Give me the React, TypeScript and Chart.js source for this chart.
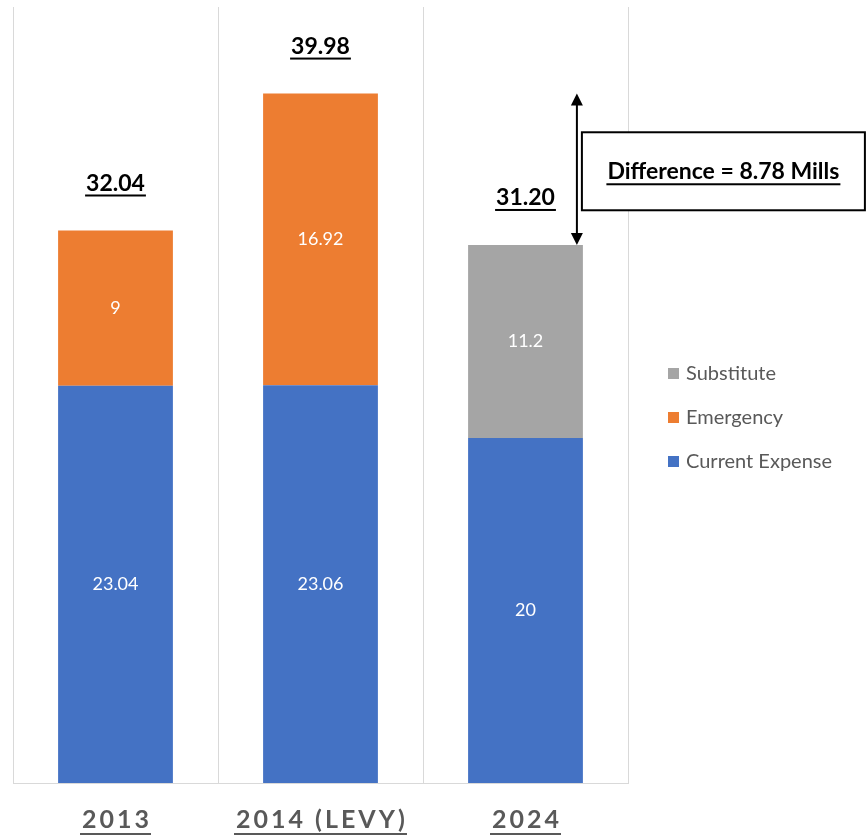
import React, { useEffect, useRef } from "react";
import { Chart, registerables } from "chart.js";

Chart.register(...registerables);

const categories = ["2013", "2014 (LEVY)", "2024"];
const currentExpense = [23.04, 23.06, 20];
const emergency: (number | null)[] = [9, 16.92, null];
const substitute: (number | null)[] = [null, null, 11.2];
const totalLabels = ["32.04", "39.98", "31.20"];
const differenceText = "Difference = 8.78 Mills";
const yMax = 45;

const W = 868;
const H = 836;

function drawUnderlinedText(
  ctx: CanvasRenderingContext2D,
  text: string,
  cx: number,
  cy: number,
  font: string,
  color: string,
  spacing: number,
  underlineOffset: number,
  underlineWidth: number,
  padExtra = 0
) {
  ctx.save();
  ctx.font = font;
  (ctx as any).letterSpacing = spacing + "px";
  ctx.fillStyle = color;
  ctx.textBaseline = "middle";
  ctx.textAlign = "left";
  const w = ctx.measureText(text).width - spacing;
  const x0 = cx - w / 2;
  ctx.fillText(text, x0, cy);
  ctx.fillRect(x0 - padExtra, cy + underlineOffset, w + padExtra * 2, underlineWidth);
  ctx.restore();
}

const overlayPlugin = {
  id: "overlay",
  afterDatasetsDraw(chart: any) {
    const ctx: CanvasRenderingContext2D = chart.ctx;
    const xs = chart.scales.x;
    const ys = chart.scales.y;

    // values inside segments
    ctx.save();
    ctx.font = "18px Lato";
    ctx.fillStyle = "#ffffff";
    ctx.textAlign = "center";
    ctx.textBaseline = "middle";
    chart.data.datasets.forEach((ds: any, di: number) => {
      const meta = chart.getDatasetMeta(di);
      meta.data.forEach((el: any, i: number) => {
        const v = ds.data[i];
        if (v === null || v === undefined) return;
        ctx.fillText(String(v), el.x, (el.y + el.base) / 2);
      });
    });
    ctx.restore();

    // totals
    const totals = categories.map(
      (_, i) => (currentExpense[i] || 0) + (emergency[i] || 0) + (substitute[i] || 0)
    );
    totals.forEach((t, i) => {
      const px = xs.getPixelForValue(i);
      const py = ys.getPixelForValue(t);
      drawUnderlinedText(ctx, totalLabels[i], px, py - 47, "bold 23px Lato", "#000000", 0, 11, 2, 1);
    });

    // x labels
    categories.forEach((c, i) => {
      const px = xs.getPixelForValue(i);
      drawUnderlinedText(ctx, c, px, 820, "bold 25px Lato", "#595959", 3, 13, 2, 2);
    });

    // difference arrow
    const meta2 = chart.getDatasetMeta(0);
    const bar = meta2.data[2];
    const ax = bar.x + bar.width / 2 - 6;
    const yTop = ys.getPixelForValue(totals[1]);
    const yBot = ys.getPixelForValue(totals[2]);
    ctx.save();
    ctx.strokeStyle = "#000000";
    ctx.fillStyle = "#000000";
    ctx.lineWidth = 2;
    ctx.beginPath();
    ctx.moveTo(ax, yTop + 10);
    ctx.lineTo(ax, yBot - 10);
    ctx.stroke();
    ctx.beginPath();
    ctx.moveTo(ax, yTop);
    ctx.lineTo(ax - 6, yTop + 12);
    ctx.lineTo(ax + 6, yTop + 12);
    ctx.closePath();
    ctx.fill();
    ctx.beginPath();
    ctx.moveTo(ax, yBot);
    ctx.lineTo(ax - 6, yBot - 12);
    ctx.lineTo(ax + 6, yBot - 12);
    ctx.closePath();
    ctx.fill();

    // difference box
    const mid = (yTop + yBot) / 2 + 2;
    const bx = ax + 5;
    const bw = 283;
    const bh = 78;
    ctx.fillStyle = "#ffffff";
    ctx.fillRect(bx, mid - bh / 2, bw, bh);
    ctx.lineWidth = 2;
    ctx.strokeStyle = "#000000";
    ctx.strokeRect(bx, mid - bh / 2, bw, bh);
    ctx.restore();
    drawUnderlinedText(ctx, differenceText, bx + bw / 2, mid, "bold 23px Lato", "#000000", 0, 12, 2, 1);

    // legend
    const legendItems = [
      { label: chart.data.datasets[2].label, color: chart.data.datasets[2].backgroundColor },
      { label: chart.data.datasets[1].label, color: chart.data.datasets[1].backgroundColor },
      { label: chart.data.datasets[0].label, color: chart.data.datasets[0].backgroundColor },
    ];
    ctx.save();
    ctx.font = "20px Lato";
    ctx.textBaseline = "middle";
    ctx.textAlign = "left";
    legendItems.forEach((it, k) => {
      const cy = 374 + k * 44;
      ctx.fillStyle = it.color;
      ctx.fillRect(668, cy - 6, 11, 11);
      ctx.fillStyle = "#595959";
      ctx.fillText(it.label, 686, cy);
    });
    ctx.restore();
  },
};

export default function App() {
  const ref = useRef<HTMLCanvasElement | null>(null);
  useEffect(() => {
    document.body.style.margin = "0";
    if (!ref.current) return;
    const chart = new Chart(ref.current, {
      type: "bar",
      data: {
        labels: categories,
        datasets: [
          {
            label: "Current Expense",
            data: currentExpense,
            backgroundColor: "#4472c4",
            categoryPercentage: 1,
            barPercentage: 0.56,
          },
          {
            label: "Emergency",
            data: emergency,
            backgroundColor: "#ed7d31",
            categoryPercentage: 1,
            barPercentage: 0.56,
          },
          {
            label: "Substitute",
            data: substitute,
            backgroundColor: "#a5a5a5",
            categoryPercentage: 1,
            barPercentage: 0.56,
          },
        ],
      },
      options: {
        responsive: false,
        animation: false,
        devicePixelRatio: 1,
        layout: { padding: { left: 13, right: 240, top: 7, bottom: 53 } },
        plugins: {
          legend: { display: false },
          tooltip: { enabled: false },
        },
        scales: {
          x: {
            stacked: true,
            grid: { offset: true, drawTicks: false, color: "#d9d9d9", lineWidth: 1 },
            border: { display: true, color: "#d9d9d9" },
            ticks: { display: false },
          },
          y: {
            stacked: true,
            display: false,
            min: 0,
            max: yMax,
          },
        },
      },
      plugins: [overlayPlugin],
    });
    return () => chart.destroy();
  }, []);
  return (
    <div style={{ position: "absolute", left: 0, top: 0, width: W, height: H, background: "#fff" }}>
      <canvas ref={ref} width={W} height={H} style={{ width: W, height: H, display: "block" }} />
    </div>
  );
}
